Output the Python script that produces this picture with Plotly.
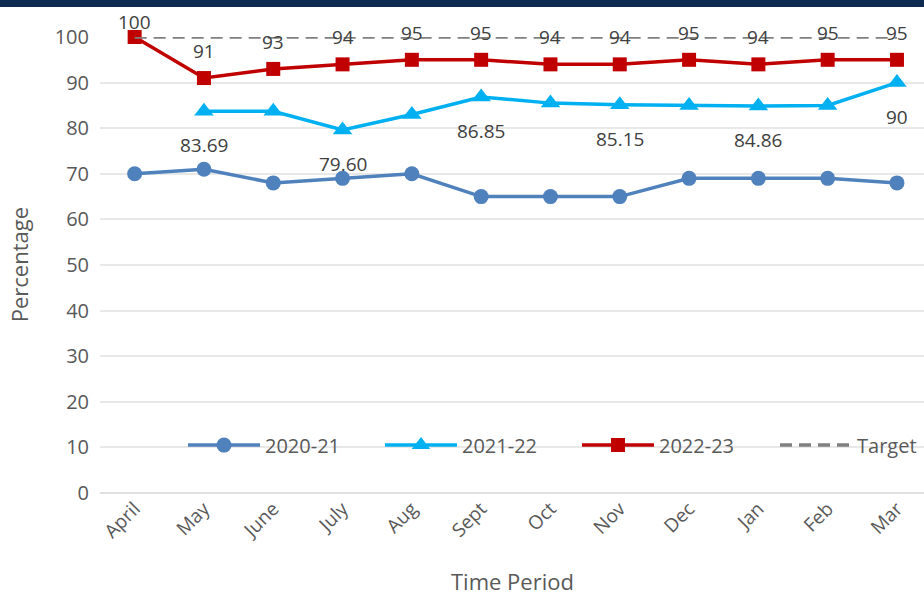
import plotly.graph_objects as go

months = ["April", "May", "June", "July", "Aug", "Sept", "Oct", "Nov", "Dec", "Jan", "Feb", "Mar"]
s2020 = [70, 71, 68, 69, 70, 65, 65, 65, 69, 69, 69, 68]
s2021 = [None, 83.69, 83.69, 79.60, 83.0, 86.85, 85.5, 85.15, 85.0, 84.86, 85.0, 90]
s2021_labels = ["", "83.69", "", "79.60", "", "86.85", "", "85.15", "", "84.86", "", "90"]
s2022 = [100, 91, 93, 94, 95, 95, 94, 94, 95, 94, 95, 95]
target = [100] * 12
y_ticks = list(range(0, 101, 10))

FONT = "Open Sans"
fig = go.Figure()

fig.add_trace(go.Scatter(x=months, y=s2020, name="2020-21", mode="lines+markers",
                         legend="legend",
                         line=dict(color="#4F81BD", width=3.5),
                         marker=dict(symbol="circle", size=15, color="#4F81BD")))
fig.add_trace(go.Scatter(x=months, y=s2021, name="2021-22", mode="lines+markers",
                         legend="legend2",
                         line=dict(color="#00B0F0", width=3.5),
                         marker=dict(symbol="triangle-up", size=17, color="#00B0F0")))
fig.add_trace(go.Scatter(x=months, y=s2022, name="2022-23", mode="lines+markers",
                         legend="legend3",
                         line=dict(color="#C00000", width=3.5),
                         marker=dict(symbol="square", size=14, color="#C00000")))
fig.add_trace(go.Scatter(x=months, y=target, name="Target", mode="lines",
                         legend="legend4",
                         line=dict(color="#808080", width=3.5, dash="12px,7px")))

annotations = []
for i, (m, v) in enumerate(zip(months, s2022)):
    annotations.append(dict(x=m, y=v, xref="x", yref="y", text=str(v), showarrow=False,
                            yshift=15 if i == 0 else 27,
                            font=dict(family=FONT, size=19, color="#404040")))
for m, v, t in zip(months, s2021, s2021_labels):
    if t:
        annotations.append(dict(x=m, y=v, xref="x", yref="y", text=t, showarrow=False,
                                yshift=-34, font=dict(family=FONT, size=19, color="#404040")))

annotations.append(dict(x=0.5, y=-0.193, xref="paper", yref="paper", text="Time Period",
                        showarrow=False, yanchor="middle",
                        font=dict(family=FONT, size=22, color="#595959")))
annotations.append(dict(x=-0.098, y=0.5, xref="paper", yref="paper", text="Percentage",
                        showarrow=False, textangle=-90, xanchor="center",
                        font=dict(family=FONT, size=22, color="#595959")))


def legend_at(px):
    return dict(orientation="h", x=(px - 100) / 824, y=0.105, xanchor="left", yanchor="middle",
                bgcolor="rgba(0,0,0,0)", font=dict(family=FONT, size=20, color="#595959"),
                itemwidth=72, visible=True)


fig.update_layout(
    width=924, height=592,
    margin=dict(l=100, r=0, t=37, b=99),
    paper_bgcolor="white", plot_bgcolor="white",
    font=dict(family=FONT, color="#595959"),
    showlegend=True,
    annotations=annotations,
    shapes=[dict(type="rect", xref="paper", yref="paper", x0=-0.2, x1=1.1,
                 y0=(493 - 7) / 456, y1=1.2, fillcolor="#0F2A50", line=dict(width=0),
                 layer="above")],
    legend=legend_at(183),
    legend2=legend_at(380),
    legend3=legend_at(577),
    legend4=legend_at(775),
    xaxis=dict(range=[-0.5, 11.39], tickangle=-45, showgrid=False, showline=False,
               ticks="", tickfont=dict(family=FONT, size=19, color="#595959")),
    yaxis=dict(range=[0, 100], tickvals=y_ticks, showgrid=True, gridcolor="#E8E8E8",
               gridwidth=1.5, zeroline=True, zerolinecolor="#E0E0E0", zerolinewidth=2,
               ticks="", ticklabelstandoff=10,
               tickfont=dict(family=FONT, size=20, color="#595959")),
)
for tr in fig.data:
    tr.cliponaxis = False

fig.write_html("out.html", config={"displayModeBar": False},
               post_script="document.body.style.margin='0';")
